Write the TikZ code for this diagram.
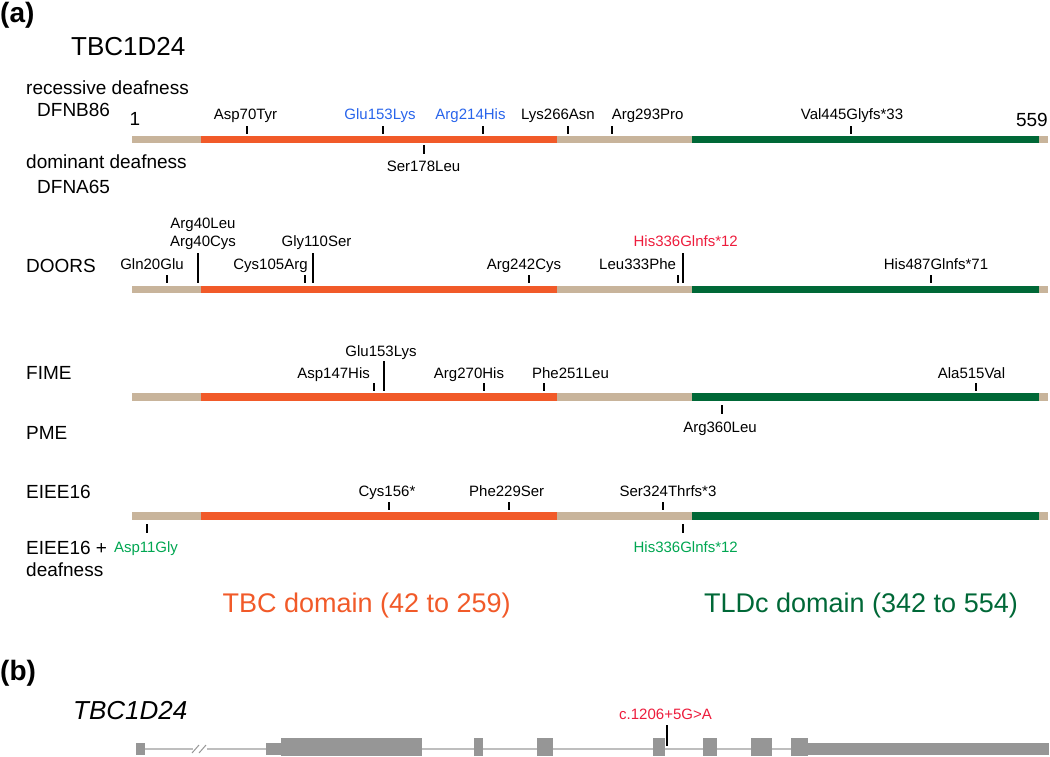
\documentclass[tikz,border=0pt]{standalone}
\usepackage{fontspec}
\setmainfont{Liberation Sans}
\usetikzlibrary{positioning}

\definecolor{linker}{RGB}{200,180,155}
\definecolor{tbc}{RGB}{241,90,41}
\definecolor{tldc}{RGB}{0,104,55}
\definecolor{mutblue}{RGB}{40,100,235}
\definecolor{mutred}{RGB}{237,28,60}
\definecolor{mutgreen}{RGB}{0,166,81}
\definecolor{exon}{RGB}{150,150,150}
\definecolor{intron}{RGB}{190,190,190}

\begin{document}
\begin{tikzpicture}[x=1pt,y=-1pt,
    mut/.style={font=\fontsize{15}{18}\selectfont, inner sep=0pt, anchor=base},
    disease/.style={font=\fontsize{19}{22}\selectfont, inner sep=0pt, anchor=base west},
    tick/.style={line width=1.8pt, black}]

\useasboundingbox (0,0) rectangle (1050,756);

% Panel (a)
\node[font=\fontsize{28}{30}\selectfont\bfseries, anchor=base west, inner sep=0pt] (panela) at (0,22) {(a)};
\node[font=\fontsize{26}{30}\selectfont, anchor=base west, inner sep=0pt] (protname) at (71,55) {TBC1D24};

% Protein bars (linker, TBC domain, TLDc domain)
\foreach \y in {139.5,289.5,397,516} {
  \fill[linker] (132,{\y-3.8}) rectangle (1048,{\y+3.8});
  \fill[tbc] (201,{\y-3.8}) rectangle (557,{\y+3.8});
  \fill[tldc] (692,{\y-3.8}) rectangle (1039,{\y+3.8});
}
\node[disease] (first) at (129.5,125) {1};
\node[disease, anchor=base east] (last) at (1048,126) {559};

% Deafness
\node[disease] (recessive) at (26,94) {recessive deafness};
\node[disease] (dfnb) at (37,116) {DFNB86};
\node[disease] (dominant) at (26,168) {dominant deafness};
\node[disease] (dfna) at (37,193) {DFNA65};
\foreach \x in {247,383,483,568,612,851} \draw[tick] (\x,126) -- (\x,134);
\draw[tick] (424,145) -- (424,154);
\node[mut] (asp70) at (245.5,119.5) {Asp70Tyr};
\node[mut, text=mutblue] (glu153) at (380,119.5) {Glu153Lys};
\node[mut, text=mutblue] (arg214) at (470.5,119.5) {Arg214His};
\node[mut] (lys266) at (558,119.5) {Lys266Asn};
\node[mut] (arg293) at (647.6,119.5) {Arg293Pro};
\node[mut] (val445) at (852,119.5) {Val445Glyfs*33};
\node[mut] (ser178) at (423.5,171) {Ser178Leu};

% DOORS
\node[disease] (doors) at (26,272) {DOORS};
\foreach \x in {167,305,529,678,931} \draw[tick] (\x,275) -- (\x,283);
\foreach \x in {198,313,683} \draw[tick] (\x,253) -- (\x,283);
\node[mut] (gln20) at (152,269) {Gln20Glu};
\node[mut] (arg40cys) at (203,246.5) {Arg40Cys};
\node[mut] (arg40leu) at (203,228) {Arg40Leu};
\node[mut] (cys105) at (270.5,269) {Cys105Arg};
\node[mut] (gly110) at (316.5,246.5) {Gly110Ser};
\node[mut] (arg242) at (524,269) {Arg242Cys};
\node[mut] (leu333) at (637.6,269) {Leu333Phe};
\node[mut, text=mutred] (his336) at (685.7,246.5) {His336Glnfs*12};
\node[mut] (his487) at (936,269) {His487Glnfs*71};

% FIME and PME
\node[disease] (fime) at (26,379) {FIME};
\node[disease] (pme) at (26,439) {PME};
\foreach \x in {374,484,544,976} \draw[tick] (\x,383) -- (\x,391);
\draw[tick] (384,361) -- (384,391);
\draw[tick] (722,405) -- (722,414);
\node[mut] (asp147) at (333.6,378) {Asp147His};
\node[mut] (glu153f) at (381,356) {Glu153Lys};
\node[mut] (arg270) at (469,378) {Arg270His};
\node[mut] (phe251) at (570.5,378) {Phe251Leu};
\node[mut] (ala515) at (971.5,378) {Ala515Val};
\node[mut] (arg360) at (720,432) {Arg360Leu};

% EIEE16
\node[disease] (eiee) at (26,498) {EIEE16};
\node[disease] (eieed) at (26,554) {EIEE16 +};
\node[disease] (deaf) at (26,576) {deafness};
\foreach \x in {389,509,663} \draw[tick] (\x,502) -- (\x,510);
\foreach \x in {147,683} \draw[tick] (\x,524) -- (\x,533);
\node[mut] (cys156) at (387,496) {Cys156*};
\node[mut] (phe229) at (506.7,496) {Phe229Ser};
\node[mut] (ser324) at (668,496) {Ser324Thrfs*3};
\node[mut, text=mutgreen] (asp11) at (146,552.5) {Asp11Gly};
\node[mut, text=mutgreen] (his336e) at (685.7,552.5) {His336Glnfs*12};

% Domain names
\node[font=\fontsize{27}{30}\selectfont, text=tbc, anchor=base] (tbclab) at (366.7,612) {TBC domain (42 to 259)};
\node[font=\fontsize{27}{30}\selectfont, text=tldc, anchor=base] (tldclab) at (861,612) {TLDc domain (342 to 554)};

% Panel (b): gene
\node[font=\fontsize{28}{30}\selectfont\bfseries, anchor=base west, inner sep=0pt] (panelb) at (0,680) {(b)};
\node[font=\fontsize{26}{30}\selectfont\itshape, anchor=base west, inner sep=0pt] (genename) at (73,719) {TBC1D24};
\draw[intron, line width=1.5pt] (140,749) -- (193,749);
\draw[intron, line width=1.5pt] (207,749) -- (800,749);
\draw[exon, line width=1pt] (192,753) -- (199,745) (199,753) -- (206,745);
\fill[exon] (136.4,743) rectangle (145.2,754.5);
\fill[exon] (266,743) rectangle (281,754.5);
\fill[exon] (281,737.5) rectangle (422,756);
\fill[exon] (474,737.5) rectangle (483,756);
\fill[exon] (537,737.5) rectangle (552.7,756);
\fill[exon] (653,737.5) rectangle (664.5,756);
\fill[exon] (702.8,737.5) rectangle (716.9,756);
\fill[exon] (750.6,737.5) rectangle (771.7,756);
\fill[exon] (791,737.5) rectangle (807.6,756);
\fill[exon] (807.6,743) rectangle (1049,754.5);
\draw[tick] (667,725) -- (667,745.5);
\node[mut, text=mutred] (splice) at (665.5,719) {c.1206+5G>A};

\end{tikzpicture}
\end{document}
